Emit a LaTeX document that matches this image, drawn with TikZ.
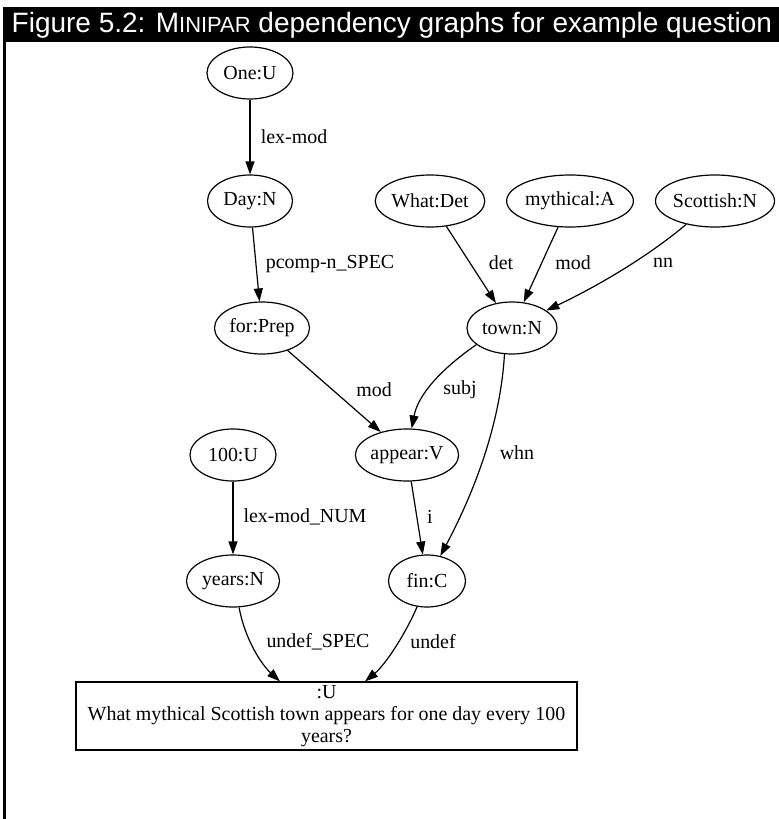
\documentclass[tikz,border=0pt]{standalone}
\usepackage{fontspec}
\setmainfont{Liberation Serif}
\newfontfamily\headfont{Liberation Sans}
\usetikzlibrary{shapes.geometric,arrows.meta}

\begin{document}
\begin{tikzpicture}[x=1bp,y=-1bp,
  every node/.style={font=\fontsize{20}{22.2}\selectfont},
  word/.style={draw, ellipse, line width=1.2bp, inner sep=0pt, minimum height=52bp},
  sentence/.style={draw, rectangle, line width=1.2bp, inner sep=0pt,
                   minimum width=501bp, minimum height=68bp},
  lbl/.style={inner sep=0pt},
  dep/.style={line width=1.2bp, -{Triangle[length=13bp,width=9bp]}},
]
\useasboundingbox (0,0) rectangle (779,819);

% caption bar and left rule
\fill[black] (3,7) rectangle (779,42);
\node[anchor=base west, text=white, inner sep=0pt,
      font=\headfont\fontsize{28.1}{30}\selectfont] (title) at (11.5,33)
  {Figure 5.2: M{\fontsize{22}{24}\selectfont INIPAR} dependency graphs for example question};
\draw[line width=2.5bp] (4.5,42) -- (4.5,819);

% words of the parse
\node[word, minimum width=86bp]  (one)     at (250,73)  {One:U};
\node[word, minimum width=85bp]  (day)     at (250,201) {Day:N};
\node[word, minimum width=107bp] (what)    at (430,201) {What:Det};
\node[word, minimum width=121bp] (myth)    at (570,201) {mythical:A};
\node[word, minimum width=116bp] (scot)    at (715,201) {Scottish:N};
\node[word, minimum width=95bp]  (for)     at (262,328) {for:Prep};
\node[word, minimum width=90bp]  (town)    at (512,328) {town:N};
\node[word, minimum width=86bp]  (hundred) at (233,455) {100:U};
\node[word, minimum width=103bp] (appear)  at (407,455) {appear:V};
\node[word, minimum width=93bp]  (years)   at (233,581) {years:N};
\node[word, minimum width=77bp]  (fin)     at (427,581) {fin:C};
\node[sentence] (box) at (326.5,716)
  {\begin{tabular}{@{}c@{}}:U\\What mythical Scottish town appears for one day every 100\\years?\end{tabular}};

% dependency relations
\draw[dep] (one) -- (day);
\draw[dep] (day) -- (for);
\draw[dep] (what) -- (town);
\draw[dep] (myth) -- (town);
\draw[dep] (scot.219) .. controls (650,255) and (600,285) .. (town.27);
\draw[dep] (for) -- (appear);
\draw[dep] (town.205) .. controls (440,370) and (418,395) .. (appear.80);
\draw[dep] (town.254) .. controls (500,430) and (470,500) .. (fin.62);
\draw[dep] (appear) -- (fin);
\draw[dep] (hundred) -- (years);
\draw[dep] (years.283) .. controls (245,640) and (262,665) .. ([xshift=-46.5bp]box.north);
\draw[dep] (fin.249) .. controls (405,635) and (385,665) .. ([xshift=38.5bp]box.north);

% relation labels
\node[lbl] (l-lexmod)  at (294,137) {lex-mod};
\node[lbl] (l-pcomp)   at (330,264) {pcomp-n\_SPEC};
\node[lbl] (l-det)     at (501,263) {det};
\node[lbl] (l-mod1)    at (573,263) {mod};
\node[lbl] (l-nn)      at (663,263) {nn};
\node[lbl] (l-mod2)    at (374,390) {mod};
\node[lbl] (l-subj)    at (460,390) {subj};
\node[lbl] (l-whn)     at (517,453) {whn};
\node[lbl] (l-lexnum)  at (305,517) {lex-mod\_NUM};
\node[lbl] (l-i)       at (430,517) {i};
\node[lbl] (l-uspec)   at (318,642) {undef\_SPEC};
\node[lbl] (l-undef)   at (433,642) {undef};
\end{tikzpicture}
\end{document}
